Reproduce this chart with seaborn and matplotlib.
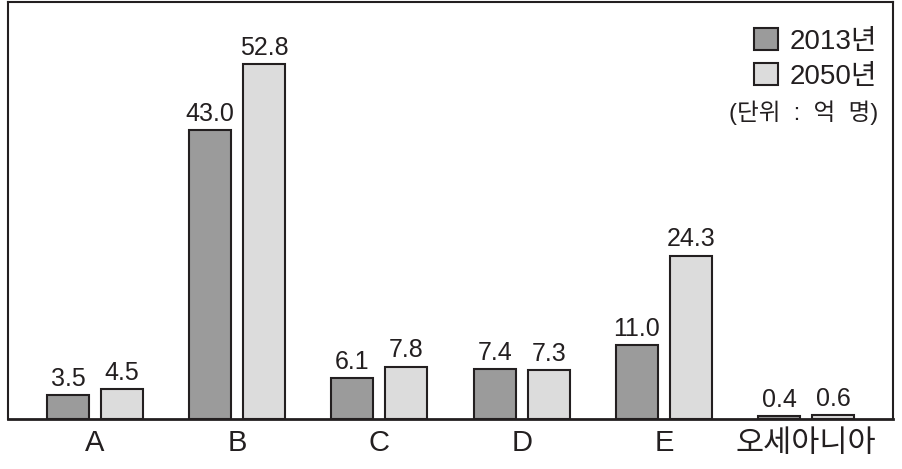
"""
Population by region, 2013 vs 2050 (grouped bar chart)
"""

import pandas as pd
import matplotlib
matplotlib.use('Agg')
import matplotlib.pyplot as plt
import seaborn as sns

regions = ['A', 'B', 'C', 'D', 'E', '오세아니아']
pop_2013 = [3.5, 43.0, 6.1, 7.4, 11.0, 0.4]
pop_2050 = [4.5, 52.8, 7.8, 7.3, 24.3, 0.6]
years = ['2013년', '2050년']
unit_text = '(단위  :  억  명)'

sns.set_style('white')
# Helvetica-like digits, Korean falls back to Noto CJK
plt.rcParams['font.family'] = ['Liberation Sans', 'Noto Sans CJK KR', 'DejaVu Sans']

df = pd.DataFrame({
    'region': regions * 2,
    'year': [years[0]] * len(regions) + [years[1]] * len(regions),
    'value': pop_2013 + pop_2050,
})

fig = plt.figure(figsize=(9.02, 4.69), dpi=100)
ax = fig.add_axes([0.009, 0.1066, 0.981, 0.889])

sns.barplot(data=df, x='region', y='value', hue='year', order=regions,
            hue_order=years, palette=['#9b9b9b', '#dcdcdc'],
            width=0.758, gap=0.222, edgecolor='#231f20', linewidth=1.5,
            ax=ax)

for cont in ax.containers:
    ax.bar_label(cont, fmt='%.1f', padding=3, fontsize=18, color='#231f20')

ax.set_xlim(-0.61, 5.61)
ax.set_ylim(0, 62)
ax.set_xlabel('')
ax.set_ylabel('')
ax.set_yticks([])
ax.tick_params(axis='x', length=0, labelsize=21, pad=7, labelcolor='#231f20')
ax.get_xticklabels()[-1].set_fontsize(22)
for s in ax.spines.values():
    s.set_visible(True)
    s.set_color('#231f20')
    s.set_linewidth(1.5)
ax.spines['bottom'].set_linewidth(2)

ax.legend(loc='upper right', bbox_to_anchor=(0.994, 0.964), frameon=False,
          fontsize=20, handlelength=0.85, handleheight=0.85,
          handletextpad=0.4, labelspacing=0.3, borderaxespad=0,
          labelcolor='#231f20')
ax.text(0.983, 0.734, unit_text, transform=ax.transAxes, ha='right',
        va='center', fontsize=17, color='#231f20')

plt.savefig('out.png', dpi=100)
